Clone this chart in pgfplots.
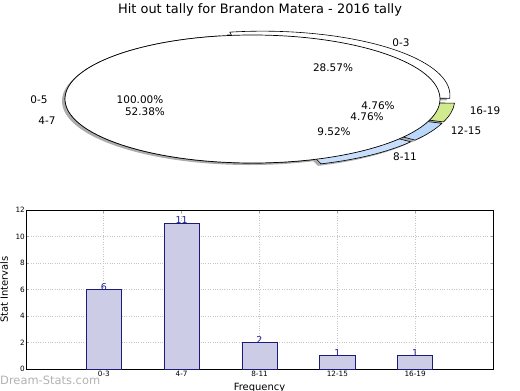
\documentclass[border=0pt]{standalone}
\usepackage{fontspec}
\setmainfont{DejaVu Sans}
\usepackage{pgfplots}
\pgfplotsset{compat=1.18}
\definecolor{barfill}{RGB}{204,204,230}
\definecolor{baredge}{RGB}{28,28,120}
\definecolor{valblue}{RGB}{30,30,150}
\definecolor{slgreen}{RGB}{210,234,142}
\definecolor{slblueA}{RGB}{186,216,250}
\definecolor{slblueB}{RGB}{200,222,252}
\newcommand\pieslice[5]{%
  \path[#5] (axis cs:#1,#2) -- ++(#3:187.5bp and 64bp)
    arc[start angle=#3,end angle=#4,x radius=187.5bp,y radius=64bp] -- cycle;}
\begin{document}
\begin{tikzpicture}[x=1bp,y=1bp]
\useasboundingbox (0,0) rectangle (520,390);
\begin{axis}[at={(0,0)},anchor=south west,scale only axis,width=520bp,height=390bp,
  xmin=0,xmax=520,ymin=0,ymax=390,y dir=reverse,hide axis,clip=false]
% shadows
\pieslice{249.5}{101}{0}{360}{fill=gray!65}
\pieslice{259.45}{97.16}{100}{-2.86}{fill=gray!65}
\pieslice{264.24}{102.01}{-2.86}{-20}{fill=gray!65}
\pieslice{262.71}{103.45}{-20}{-37.14}{fill=gray!65}
\pieslice{258.28}{105.16}{-37.14}{-71.43}{fill=gray!65}
% second pie
\pieslice{252.5}{99}{-71.43}{-260}{fill=white,draw=black,line width=0.6bp}
\pieslice{262.45}{95.16}{100}{-2.86}{fill=white,draw=black,line width=0.6bp}
\pieslice{267.24}{100.01}{-2.86}{-20}{fill=slgreen,draw=black,line width=0.6bp}
\pieslice{265.71}{101.45}{-20}{-37.14}{fill=slblueA,draw=black,line width=0.6bp}
\pieslice{261.28}{103.16}{-37.14}{-71.43}{fill=slblueB,draw=black,line width=0.6bp}
% first pie (100%)
\path[fill=white,draw=black,line width=0.7bp] (axis cs:252.5,99) ellipse[x radius=187.5bp,y radius=64bp];
% labels
\node[font=\fontsize{13}{15}\selectfont] at (axis cs:260,10) {Hit out tally for Brandon Matera - 2016 tally};
\begin{scope}[every node/.style={font=\fontsize{10.5}{12}\selectfont,inner sep=0pt}]
\node at (axis cs:401,43) {0-3};
\node at (axis cs:333,68) {28.57\%};
\node at (axis cs:39,100) {0-5};
\node at (axis cs:140,100) {100.00\%};
\node at (axis cs:145,112) {52.38\%};
\node at (axis cs:47,121) {4-7};
\node at (axis cs:378,105.5) {4.76\%};
\node at (axis cs:367,116.5) {4.76\%};
\node at (axis cs:334,131.5) {9.52\%};
\node at (axis cs:485,110.5) {16-19};
\node at (axis cs:466,130.5) {12-15};
\node at (axis cs:405,156.5) {8-11};
\end{scope}
\node[text=gray!60,font=\fontsize{11.5}{13}\selectfont,anchor=west,inner sep=0pt] at (axis cs:0,380) {Dream-Stats.com};
\end{axis}
\begin{axis}[at={(26bp,21bp)},anchor=south west,scale only axis,width=467bp,height=159bp,
  xmin=0,xmax=6,ymin=0,ymax=12,
  xtick={1,2,3,4,5},xticklabels={0-3,4-7,8-11,12-15,16-19},
  ytick={0,2,4,6,8,10,12},
  grid=major,grid style={dotted,gray!45,line width=0.9pt},
  tick align=inside,major tick length=2.5bp,tick style={gray!70,line width=0.8pt},
  axis line style={black,line width=0.8pt},
  ticklabel style={font=\fontsize{7.3}{8}\selectfont},
  /pgf/number format/assume math mode=true,
  xticklabel style={inner sep=1pt,yshift=-1bp},
  yticklabel style={inner sep=1pt},
  ylabel={Stat Intervals},xlabel={Frequency},
  label style={font=\fontsize{10.5}{12}\selectfont},
  every axis y label/.style={at={(axis description cs:-0.047,0.5)},rotate=90,anchor=center,inner sep=0pt},
  every axis x label/.style={at={(axis description cs:0.5,0)},anchor=north,yshift=-14bp,inner sep=0pt},
]
\addplot[ybar,bar width=0.45,fill=barfill,draw=baredge,line width=0.7pt,
  nodes near coords,
  every node near coord/.style={font=\fontsize{9.5}{10}\selectfont,text=valblue,inner sep=0pt,anchor=south,yshift=-1bp}]
  coordinates {(1,6) (2,11) (3,2) (4,1) (5,1)};
\end{axis}
\end{tikzpicture}
\end{document}
